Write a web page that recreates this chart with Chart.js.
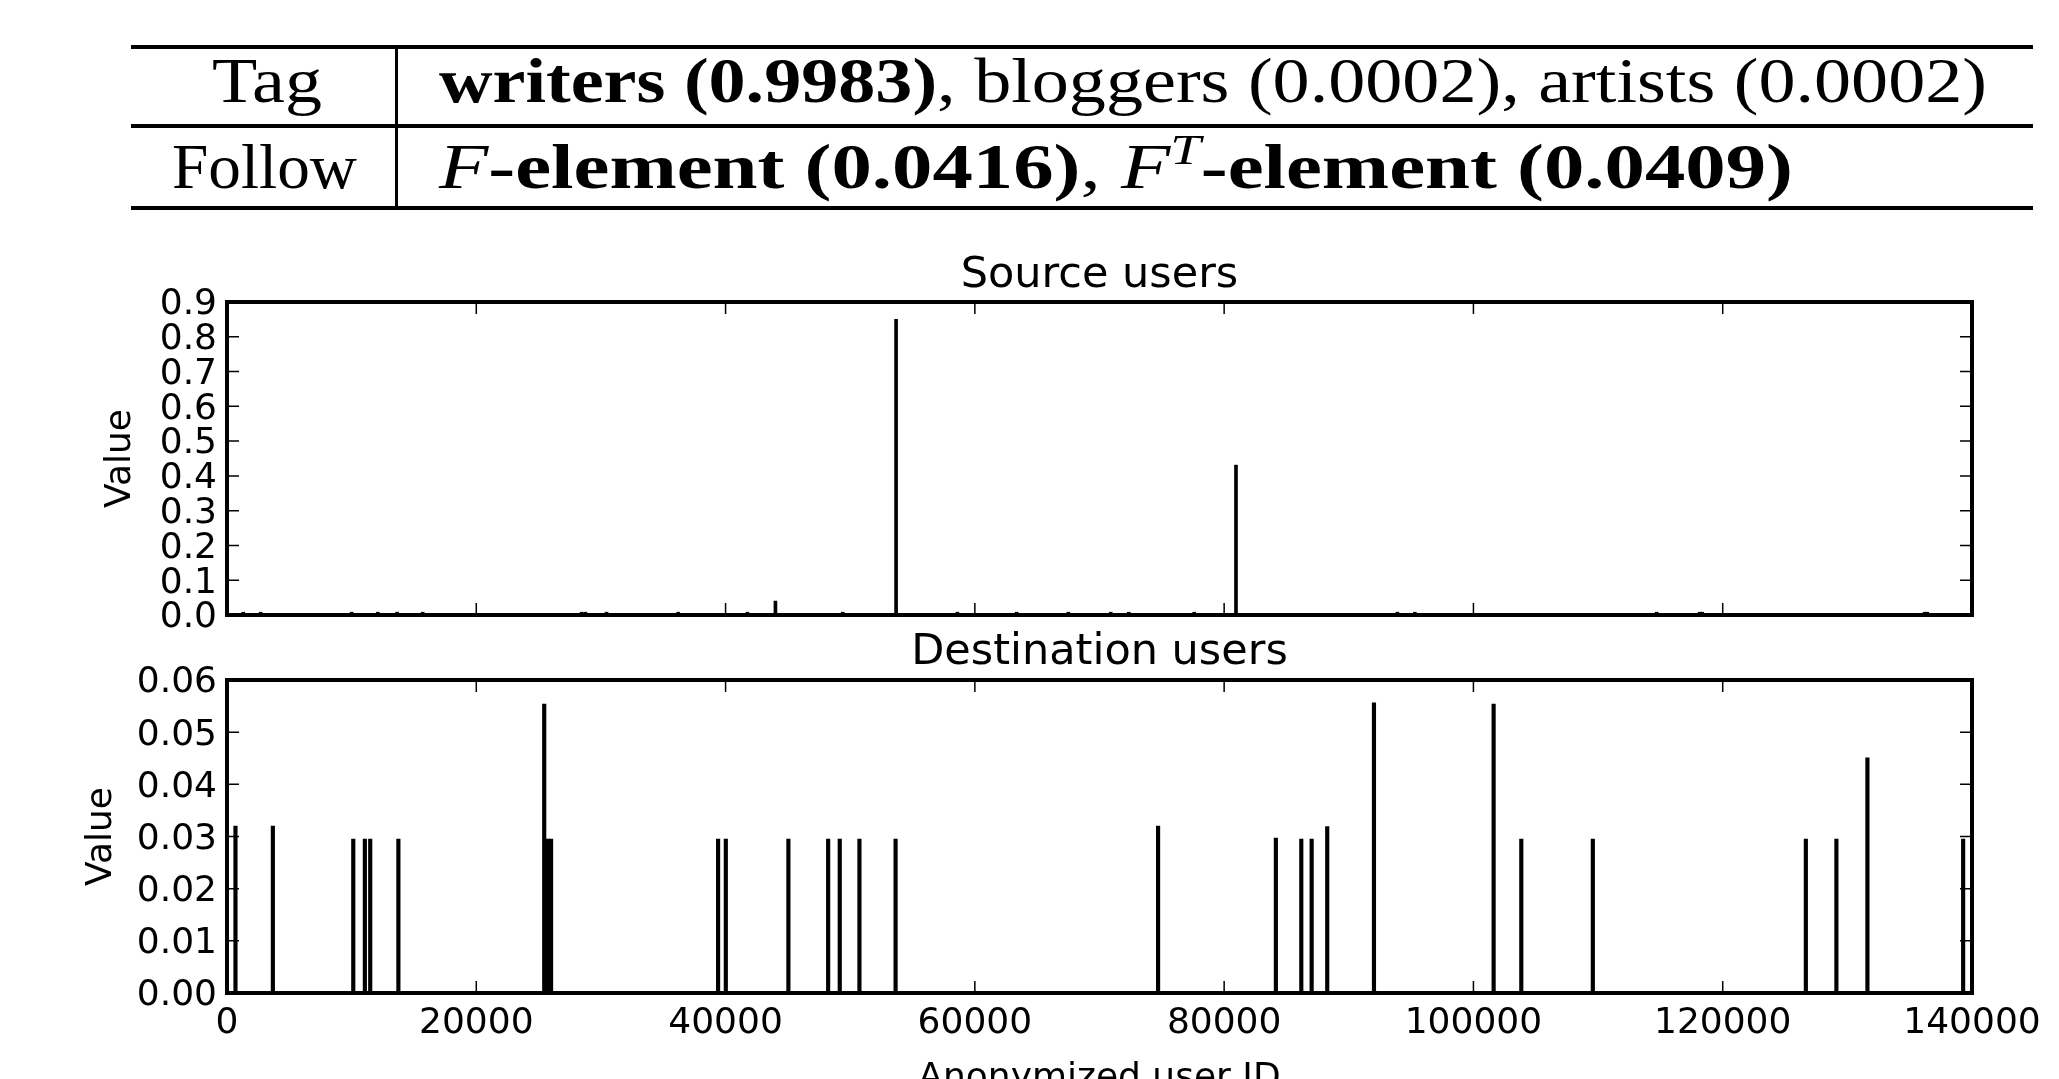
<!DOCTYPE html>
<html lang="en">
<head>
<meta charset="UTF-8">
<title>Source and destination users</title>
<script src="https://cdn.jsdelivr.net/npm/chart.js"></script>
<style>
    html, body {
        margin: 0;
        padding: 0;
        background: #ffffff;
        overflow: hidden;
    }
    body {
        position: relative;
        width: 2059px;
        height: 1079px;
        color: #000;
        font-family: 'Liberation Serif', serif;
    }
    .rule {
        position: absolute;
        left: 131px;
        width: 1902px;
        height: 4px;
        background: #000;
    }
    .vrule {
        position: absolute;
        left: 395px;
        top: 47px;
        width: 3px;
        height: 161px;
        background: #000;
    }
    .cell {
        position: absolute;
        font-size: 63px;
        line-height: normal;
        white-space: nowrap;
        transform-origin: left top;
    }
    .cell sup {
        font-size: 0.68em;
        vertical-align: 0.55em;
        line-height: 0;
    }
    .plot {
        position: absolute;
        left: 0;
    }
</style>
</head>
<body>
    <!-- table above the plots -->
    <div class="rule" style="top:45px"></div>
    <div class="rule" style="top:124px"></div>
    <div class="rule" style="top:206px"></div>
    <div class="vrule"></div>

    <div class="cell" data-w="110" style="left:212px; top:45px">Tag</div>
    <div class="cell" data-w="1548" style="left:439px; top:45px"><b>writers (0.9983)</b>, bloggers (0.0002), artists (0.0002)</div>
    <div class="cell" data-w="185" style="left:172px; top:131px">Follow</div>
    <div class="cell" data-w="1354" style="left:439px; top:131px"><i>F</i><b>-element (0.0416)</b>, <i>F<sup>T</sup></i><b>-element (0.0409)</b></div>

    <canvas id="srcChart" class="plot" width="2059" height="397" style="top:250px"></canvas>
    <canvas id="dstChart" class="plot" width="2059" height="473" style="top:627px"></canvas>

<script>
    // axis ticks
    const xTicks = [0, 20000, 40000, 60000, 80000, 100000, 120000, 140000];
    const srcTicks = [0, 0.1, 0.2, 0.3, 0.4, 0.5, 0.6, 0.7, 0.8, 0.9];
    const dstTicks = [0, 0.01, 0.02, 0.03, 0.04, 0.05, 0.06];

    // Source users
    const srcIds = [1300, 2700, 10000, 12100, 13650, 15700, 28450, 28750, 30450, 36200,
        41750, 44000, 49400, 53680, 58600, 63350, 67500, 70900, 72350, 77600,
        80950, 93900, 95300, 114700, 118150, 118350, 136200, 136400];
    const srcValues = [0.008, 0.008, 0.008, 0.008, 0.008, 0.008, 0.008, 0.008, 0.008, 0.008,
        0.008, 0.04, 0.008, 0.85, 0.008, 0.008, 0.008, 0.008, 0.008, 0.008,
        0.431, 0.008, 0.008, 0.008, 0.008, 0.008, 0.008, 0.008];

    // Destination users
    const dstIds = [680, 3680, 10130, 11060, 11490, 13750, 25450, 25750, 26000, 39400,
        40020, 45040, 48230, 49160, 50740, 53640, 74700, 84150, 86190, 87020,
        88270, 92020, 101620, 103840, 109580, 126670, 129120, 131610, 139290];
    const dstValues = [0.032, 0.032, 0.0295, 0.0295, 0.0295, 0.0295, 0.0554, 0.0295, 0.0295, 0.0295,
        0.0295, 0.0295, 0.0295, 0.0295, 0.0295, 0.0295, 0.032, 0.0297, 0.0295, 0.0295,
        0.0319, 0.0556, 0.0554, 0.0295, 0.0295, 0.0295, 0.0295, 0.0451, 0.0295];

    // stretch table text to the widths of the original
    document.querySelectorAll('.cell').forEach(el => {
        const w = el.getBoundingClientRect().width;
        el.style.transform = 'scaleX(' + (el.dataset.w / w) + ')';
    });

    Chart.defaults.font.family = "'DejaVu Sans', sans-serif";
    Chart.defaults.color = '#000';

    // box around the plot with matplotlib style inward ticks
    const framePlugin = {
        id: 'frame',
        afterDatasetsDraw(chart, args, opts) {
            const ctx = chart.ctx;
            const a = chart.chartArea;
            const sx = chart.scales.x, sy = chart.scales.y;
            ctx.save();
            ctx.strokeStyle = '#000';
            ctx.lineWidth = 1.5;
            ctx.beginPath();
            xTicks.forEach(v => {
                const x = sx.getPixelForValue(v);
                ctx.moveTo(x, a.top); ctx.lineTo(x, a.top + 12);
                ctx.moveTo(x, a.bottom); ctx.lineTo(x, a.bottom - 12);
            });
            opts.yTicks.forEach(v => {
                const y = sy.getPixelForValue(v);
                ctx.moveTo(a.left, y); ctx.lineTo(a.left + 12, y);
                ctx.moveTo(a.right, y); ctx.lineTo(a.right - 12, y);
            });
            ctx.stroke();
            ctx.lineWidth = 4;
            ctx.strokeRect(a.left, a.top, a.right - a.left, a.bottom - a.top);
            ctx.restore();
        }
    };

    function makeChart(canvasId, cfg) {
        return new Chart(document.getElementById(canvasId), {
            type: 'bar',
            data: {
                datasets: [{
                    data: cfg.ids.map((x, i) => ({ x: x, y: cfg.values[i] })),
                    backgroundColor: '#000',
                    borderWidth: 0,
                    barThickness: cfg.barWidth
                }]
            },
            options: {
                responsive: false,
                animation: false,
                events: [],
                layout: { padding: { left: 0, right: 87, top: 0, bottom: 0 } },
                plugins: {
                    legend: { display: false },
                    tooltip: { enabled: false },
                    title: {
                        display: true,
                        fullSize: false,
                        text: cfg.title,
                        color: '#000',
                        font: { size: 43, weight: 'normal', lineHeight: 1.2 },
                        padding: { top: 0, bottom: cfg.titleGap }
                    },
                    frame: { yTicks: cfg.yTicks }
                },
                scales: {
                    x: {
                        type: 'linear',
                        min: 0,
                        max: 140000,
                        offset: false,
                        grid: { display: false, drawTicks: false },
                        border: { display: false },
                        afterBuildTicks: s => { s.ticks = xTicks.map(v => ({ value: v })); },
                        afterFit: s => { s.height = cfg.xHeight; },
                        ticks: {
                            display: cfg.showX,
                            autoSkip: false,
                            maxRotation: 0,
                            padding: 9,
                            font: { size: 36 },
                            callback: v => String(v)
                        },
                        title: {
                            display: cfg.showX,
                            text: 'Anonymized user ID',
                            font: { size: 36, lineHeight: 1.2 },
                            padding: 0
                        }
                    },
                    y: {
                        min: 0,
                        max: cfg.yTicks[cfg.yTicks.length - 1],
                        grid: { display: false, drawTicks: false },
                        border: { display: false },
                        afterBuildTicks: s => { s.ticks = cfg.yTicks.map(v => ({ value: v })); },
                        afterFit: s => { s.width = 227; },
                        ticks: {
                            autoSkip: false,
                            padding: 10,
                            labelOffset: 3,
                            font: { size: 36 },
                            callback: v => v.toFixed(cfg.digits)
                        },
                        title: {
                            display: true,
                            text: 'Value',
                            font: { size: 36, lineHeight: 1.2 },
                            padding: { top: cfg.yTitlePad, bottom: 0 }
                        }
                    }
                }
            },
            plugins: [framePlugin]
        });
    }

    makeChart('srcChart', {
        ids: srcIds, values: srcValues, yTicks: srcTicks, digits: 1,
        title: 'Source users', titleGap: 0.4, xHeight: 32, showX: false,
        yTitlePad: 99, barWidth: 3
    });

    makeChart('dstChart', {
        ids: dstIds, values: dstValues, yTicks: dstTicks, digits: 2,
        title: 'Destination users', titleGap: 1.4, xHeight: 107, showX: true,
        yTitlePad: 80, barWidth: 3.5
    });
</script>
</body>
</html>
